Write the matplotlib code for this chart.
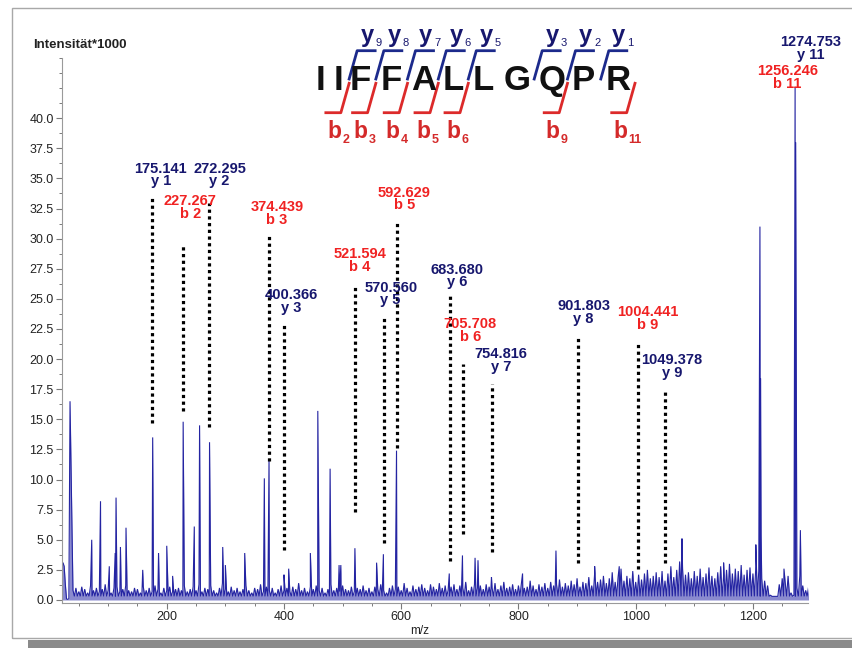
import matplotlib
matplotlib.use('Agg')
import matplotlib.pyplot as plt
from matplotlib.lines import Line2D
from matplotlib.patches import Rectangle
from matplotlib.ticker import FixedLocator, MultipleLocator, FormatStrFormatter
import numpy as np

plt.rcParams['font.family'] = ['Liberation Sans', 'DejaVu Sans']

W, H = 853, 648
NAVY = '#17176e'
RED = '#f02222'
SPEC = '#2424a2'
BR_BLUE = '#1c2a8c'
BR_RED = '#dc2a2a'

# --- spectrum ---
# start of the trace (m/z < 40)
lead_mz = [21, 23, 25, 27, 29, 31, 33]
lead_int = [3.0, 3.1, 2.8, 1.3, 0.1, 0.05, 0.1]

# noise maxima every 5 m/z from 40 to 1295
noise_start = 40
noise = [
    0.8, 1.0, 0.7, 1.1, 0.9, 0.6, 1.2, 0.8, 1.0, 0.7, 0.9, 1.3, 0.8, 0.6, 1.0, 1.1, 0.7, 0.9, 1.2, 0.8,
    0.7, 1.0, 0.9, 0.6, 1.1, 0.8, 1.0, 0.7, 1.2, 0.9, 0.6, 1.0, 0.8, 1.1, 0.7, 0.9, 1.0, 0.8, 1.2, 0.7,
    0.9, 1.1, 0.8, 1.3, 0.7, 1.0, 0.9, 1.2, 0.8, 0.6, 1.0, 1.4, 0.9, 0.7, 1.1, 0.8, 1.0, 0.7, 0.9, 1.2,
    0.8, 0.6, 1.0, 0.9, 1.3, 0.7, 1.1, 0.8, 1.0, 0.6, 0.9, 1.2, 0.8, 1.0, 0.7, 1.1, 0.9, 1.4, 0.8, 1.0,
    0.7, 1.1, 0.9, 1.2, 0.8, 1.0, 0.6, 0.9, 1.3, 0.8, 1.0, 0.7, 1.2, 0.9, 0.8, 1.1, 0.7, 1.0, 0.9, 1.2,
    0.8, 1.0, 0.7, 1.1, 0.9, 1.3, 0.8, 0.6, 1.0, 1.2, 0.9, 1.1, 0.8, 1.4, 1.0, 0.7, 1.2, 0.9, 1.1, 1.3,
    1.0, 0.8, 1.3, 1.1, 0.9, 1.4, 1.0, 1.2, 0.8, 1.1, 1.3, 0.9, 1.2, 1.0, 1.5, 0.8, 1.1, 1.3, 1.0, 1.2,
    0.9, 1.3, 1.1, 1.0, 1.4, 0.9, 1.2, 1.5, 1.0, 1.1, 1.3, 0.9, 1.2, 1.4, 1.0, 1.1, 1.6, 1.2, 0.9, 1.3,
    1.1, 1.4, 1.0, 1.5, 1.2, 1.3, 1.7, 1.1, 1.4, 1.2, 1.6, 1.3, 1.8, 1.1, 1.5, 1.4, 1.9, 1.2, 2.2, 1.5,
    1.7, 2.0, 1.4, 1.8, 2.3, 1.5, 1.9, 2.6, 1.6, 2.0, 1.8, 2.4, 1.5, 2.1, 1.7, 2.2, 2.5, 1.8, 2.0, 2.3,
    1.9, 2.4, 1.6, 2.2, 2.8, 1.9, 2.5, 3.2, 2.6, 2.1, 2.3, 1.8, 2.4, 2.0, 2.6, 1.9, 2.2, 2.7, 2.0, 1.8,
    2.3, 2.8, 2.0, 2.5, 3.0, 2.2, 2.6, 2.4, 2.9, 2.1, 2.5, 2.7, 2.2, 2.8, 2.4, 1.8, 1.6, 1.2, 0.4, 0.3,
    0.3, 1.3, 1.8, 1.5, 2.0, 0.6, 0.4, 1.0, 2.0, 1.2, 0.8, 1.1,
]
noise_base = 0.3

# distinct peaks (m/z, intensity*1000)
peak_mz = [35, 72, 87, 102, 112, 113.5, 121, 130.5, 159, 176, 186, 200, 210, 228, 247,
           256, 273, 295.5, 300, 333, 366.5, 374.5, 400, 408, 445, 457.7, 478.7, 494,
           497, 521, 558, 569.6, 592, 682, 704.5, 726, 731, 754, 807, 864, 930, 972,
           1079, 1150, 1205, 1212, 1213, 1214, 1253, 1272, 1273, 1274.5, 1281]
peak_int = [16.5, 5.0, 8.2, 2.8, 3.9, 8.5, 4.4, 6.0, 2.5, 13.5, 3.9, 4.5, 2.0, 14.8, 6.1,
            14.5, 13.1, 4.4, 2.9, 3.9, 10.1, 11.7, 2.1, 2.6, 3.9, 15.7, 10.9, 2.9,
            2.9, 4.3, 3.1, 3.8, 12.4, 2.2, 3.7, 3.5, 3.3, 1.9, 2.2, 4.1, 2.8, 2.8,
            5.1, 3.1, 4.6, 31.0, 18.4, 5.4, 2.6, 42.6, 38.0, 10.0, 5.8]

# annotated fragment ions
ion_mz = [175.141, 227.267, 272.295, 374.439, 400.366, 521.594, 570.560, 592.629,
          683.680, 705.708, 754.816, 901.803, 1004.441, 1049.378, 1256.246, 1274.753]
ion_txt = ['175.141', '227.267', '272.295', '374.439', '400.366', '521.594', '570.560',
           '592.629', '683.680', '705.708', '754.816', '901.803', '1004.441', '1049.378',
           '1256.246', '1274.753']
ion_name = ['y 1', 'b 2', 'y 2', 'b 3', 'y 3', 'b 4', 'y 5', 'b 5',
            'y 6', 'b 6', 'y 7', 'y 8', 'b 9', 'y 9', 'b 11', 'y 11']
# dotted guide lines (bottom, top); the two last ions have none
guide_lo = [14.7, 15.65, 14.4, 11.55, 4.15, 7.3, 4.75, 12.6,
            3.2, 5.5, 4.0, 3.05, 2.55, 3.1]
guide_hi = [33.4, 29.5, 33.0, 30.2, 22.9, 26.0, 23.5, 31.4,
            25.3, 19.6, 17.9, 21.75, 21.3, 17.4]
# label anchors (centre m/z, top intensity)
lab_x = [190, 240, 290, 388, 413, 529, 582, 605, 695, 718, 770, 911, 1021, 1062, 1259, 1299]
lab_y = [36.4, 33.7, 36.4, 33.2, 25.9, 29.3, 26.5, 34.4, 28.0, 23.5, 21.0, 25.0, 24.5, 20.5,
         44.5, 46.9]

# peptide and cleavage sites
sequence = 'IIFFALLGQPR'
letter_px = [320.7, 338.3, 360, 391.7, 423.3, 453.3, 483.3, 516.7, 551.7, 583.3, 618.3]
y_ions = [9, 8, 7, 6, 5, 3, 2, 1]
b_ions = [2, 3, 4, 5, 6, 9, 11]


def fx(px):
    return px / W


def fy(py):
    return 1 - py / H


fig = plt.figure(figsize=(W / 100, H / 100), dpi=100)
fig.patch.set_facecolor('white')

# frame and grey shadow bar
fig.add_artist(Rectangle((fx(12), fy(638)), fx(870) - fx(12), fy(8) - fy(638),
                         transform=fig.transFigure, fill=False, ec='#a8a8a8', lw=1))
fig.add_artist(Rectangle((fx(28), 0), 1, 8.5 / H, transform=fig.transFigure,
                         fc='#8a8a8a', ec='none'))

ax = fig.add_axes([fx(62), fy(603), fx(808) - fx(62), fy(58) - fy(603)])
ax.set_facecolor('none')

# build the trace
pts = list(zip(lead_mz, lead_int))
for i, h in enumerate(noise):
    m = noise_start + 5 * i
    pts.append((m, h))
    pts.append((m + 2.5, noise_base))
pts += list(zip(peak_mz, peak_int))
pts.sort()
xs = np.array([p[0] for p in pts])
ys = np.array([p[1] for p in pts])
ax.fill_between(xs, 0, ys, color='#2a2aa8', alpha=0.55, lw=0)
ax.plot(xs, ys, color=SPEC, lw=0.8, solid_joinstyle='miter')

# dotted guides
for m, lo, hi in zip(ion_mz, guide_lo, guide_hi):
    ax.plot([m, m], [lo, hi], color='black', lw=2.3, linestyle=(0, (1, 1.1)),
            dash_capstyle='butt')

# peak labels
for txt, name, x, y in zip(ion_txt, ion_name, lab_x, lab_y):
    c = NAVY if name.startswith('y') else RED
    ax.text(x, y, txt + '\n' + name, ha='center', va='top', color=c, fontsize=10.5,
            fontweight='bold', linespacing=0.88, clip_on=False)

ax.set_xlim(21.3, 1294)
ax.set_ylim(-0.25, 45)
for s in ['top', 'right']:
    ax.spines[s].set_visible(False)
for s in ['left', 'bottom']:
    ax.spines[s].set_color('#9a9a9a')
    ax.spines[s].set_linewidth(0.8)
ax.yaxis.set_major_locator(FixedLocator(np.arange(0, 40.01, 2.5)))
ax.yaxis.set_minor_locator(FixedLocator(np.arange(1.25, 45.01, 1.25)))
ax.yaxis.set_major_formatter(FormatStrFormatter('%.1f'))
ax.xaxis.set_major_locator(FixedLocator([200, 400, 600, 800, 1000, 1200]))
ax.xaxis.set_minor_locator(MultipleLocator(50))
ax.tick_params(which='major', length=4, width=0.8, color='#7a7a7a', labelsize=9,
               labelcolor='#222222', pad=2)
ax.tick_params(which='minor', length=2.5, width=0.7, color='#7a7a7a')

fig.text(fx(33), fy(45), 'Intensität*1000', ha='left', va='center', fontsize=9.5,
         fontweight='bold', color='#222222')
fig.text(fx(420), fy(631), 'm/z', ha='center', va='center', fontsize=8.5, color='#222222')

# peptide sequence with fragmentation brackets
for ch, px in zip(sequence, letter_px):
    fig.text(fx(px), fy(90), ch, ha='center', va='baseline', fontsize=25,
             fontweight='bold', color='#111111')


def gap_px(after):
    if after < len(letter_px):
        return (letter_px[after - 1] + letter_px[after]) / 2
    return letter_px[-1] + 16.7


for n in y_ions:
    g = gap_px(len(sequence) - n)
    fig.add_artist(Line2D([fx(g), fx(g + 8), fx(g + 26)], [fy(79), fy(50.7), fy(50.7)],
                          transform=fig.transFigure, color=BR_BLUE, lw=2))
    fig.text(fx(g + 18), fy(42), 'y', ha='center', va='baseline', fontsize=17,
             fontweight='bold', color=NAVY)
    fig.text(fx(g + 26.5), fy(45.5), str(n), ha='left', va='baseline', fontsize=8,
             color=NAVY)

for n in b_ions:
    g = gap_px(n)
    fig.add_artist(Line2D([fx(g - 23.3), fx(g - 8.3), fx(g)], [fy(112.7), fy(112.7), fy(83.3)],
                          transform=fig.transFigure, color=BR_RED, lw=2))
    fig.text(fx(g - 15), fy(138.3), 'b', ha='center', va='baseline', fontsize=16.5,
             fontweight='bold', color='#d42a2a')
    fig.text(fx(g - 7), fy(143.3), str(n), ha='left', va='baseline', fontsize=9,
             fontweight='bold', color='#d42a2a')

fig.savefig('out.png', dpi=100, facecolor='white')
